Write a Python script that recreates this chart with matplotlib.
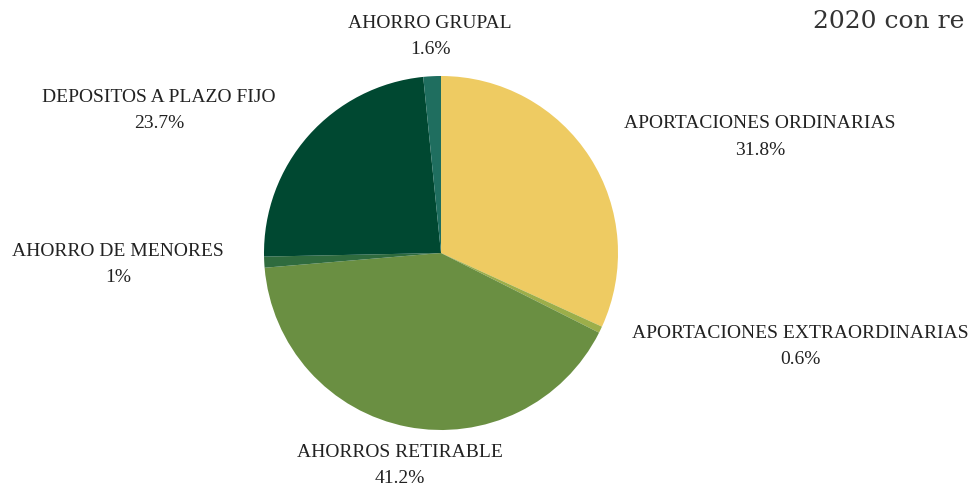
import matplotlib
matplotlib.use("Agg")
import matplotlib.pyplot as plt

labels = ["APORTACIONES ORDINARIAS", "APORTACIONES EXTRAORDINARIAS",
          "AHORROS RETIRABLE", "AHORRO DE MENORES",
          "DEPOSITOS A PLAZO FIJO", "AHORRO GRUPAL"]
values = [31.8, 0.6, 41.2, 1.0, 23.7, 1.6]
pct_text = ["31.8%", "0.6%", "41.2%", "1%", "23.7%", "1.6%"]
colors = ["#EECB62", "#9CAE4A", "#6A8F42", "#2F6B3E", "#004831", "#1F6E5F"]

# label centres in figure pixels (x, y of first line from top)
label_pos = [(760, 124), (800, 333), (400, 452), (118, 251), (159, 97), (430, 24)]

W, H = 972, 486
fig = plt.figure(figsize=(W / 100, H / 100), dpi=100)
cx, cy, r = 441, 253, 177
ax = fig.add_axes([(cx - r) / W, (H - cy - r) / H, 2 * r / W, 2 * r / H])
ax.pie(values, colors=colors, startangle=90, counterclock=False,
       wedgeprops=dict(linewidth=0))
ax.set_xlim(-1, 1)
ax.set_ylim(-1, 1)
ax.set_aspect("equal")
ax.axis("off")

font = "Liberation Serif"
for lab, p, (x, y) in zip(labels, pct_text, label_pos):
    fig.text(x / W, 1 - y / H, lab, ha="center", va="center",
             fontsize=14, family=font, color="#222222")
    fig.text(x / W, 1 - (y + 26) / H, p, ha="center", va="center",
             fontsize=14, family=font, color="#222222")

fig.text(813 / W, 1 - 21 / H, "2020 con re", ha="left", va="center",
         fontsize=18, family="DejaVu Serif", color="#333333")

fig.savefig("out.png", dpi=100)
